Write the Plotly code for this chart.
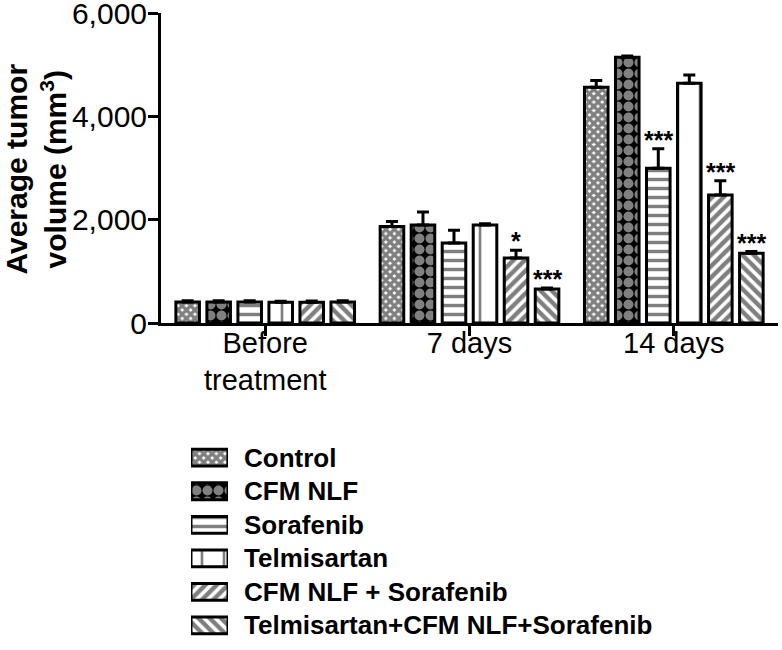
import plotly.graph_objects as go

# ---------------- data ----------------
categories = ["Before<br>treatment", "7 days", "14 days"]
series_names = ["Control", "CFM NLF", "Sorafenib", "Telmisartan",
                "CFM NLF + Sorafenib", "Telmisartan+CFM NLF+Sorafenib"]

control = [405, 1870, 4570]
control_err = [25, 100, 130]
cfm_nlf = [405, 1900, 5150]
cfm_nlf_err = [25, 250, 25]
sorafenib = [405, 1550, 3000]
sorafenib_err = [25, 250, 380]
telmisartan = [400, 1900, 4650]
telmisartan_err = [20, 25, 160]
cfm_sora = [400, 1260, 2480]
cfm_sora_err = [25, 150, 280]
triple = [405, 660, 1350]
triple_err = [25, 20, 35]

control_sig = ["", "", ""]
cfm_nlf_sig = ["", "", ""]
sorafenib_sig = ["", "", "***"]
telmisartan_sig = ["", "", ""]
cfm_sora_sig = ["", "*", "***"]
triple_sig = ["", "***", "***"]

y_ticks = [0, 2000, 4000, 6000]
y_title = "Average tumor<br>volume (mm<sup>3</sup>)"

values = [control, cfm_nlf, sorafenib, telmisartan, cfm_sora, triple]
errors = [control_err, cfm_nlf_err, sorafenib_err, telmisartan_err, cfm_sora_err, triple_err]
sigs = [control_sig, cfm_nlf_sig, sorafenib_sig, telmisartan_sig, cfm_sora_sig, triple_sig]

# ---------------- styles ----------------
FONT = "Liberation Sans, Arial, sans-serif"
patterns = [
    dict(shape="x", size=6, solidity=0.8, fgcolor="black", bgcolor="white"),
    dict(shape=".", size=11, solidity=0.65, fgcolor="white", bgcolor="black"),
    dict(shape="-", size=9, solidity=0.38, fgcolor="black", bgcolor="white"),
    dict(shape="|", size=22, solidity=0.12, fgcolor="black", bgcolor="white"),
    dict(shape="/", size=8, solidity=0.55, fgcolor="black", bgcolor="white"),
    dict(shape="\\", size=8, solidity=0.55, fgcolor="black", bgcolor="white"),
]

BARGAP = 0.089
BARGROUPGAP = 0.24
L, R, T, B = 161, 4, 13, 5
W, H = 782, 650
PLOT_W = W - L - R

fig = go.Figure()

for name, vals, errs, pat in zip(series_names, values, errors, patterns):
    fig.add_trace(go.Bar(
        x=categories, y=vals, name=name,
        marker=dict(color="white", pattern=pat, line=dict(color="black", width=3)),
        error_y=dict(type="data", symmetric=False, array=errs, arrayminus=[0] * len(errs),
                     color="black", thickness=3, width=6),
        xaxis="x", yaxis="y", showlegend=False,
    ))

# custom legend swatches (horizontal bars in a small axis)
for name, pat in zip(series_names, patterns):
    fig.add_trace(go.Bar(
        x=[1], y=[name], orientation="h", width=0.5, offset=-0.25,
        offsetgroup="legend",
        marker=dict(color="white", pattern=pat, line=dict(color="black", width=3)),
        xaxis="x2", yaxis="y2", showlegend=False, hoverinfo="skip",
    ))

# significance stars
slot = (1 - BARGAP) / len(series_names)
annotations = []
for si, (vals, errs, sg) in enumerate(zip(values, errors, sigs)):
    for ci, s in enumerate(sg):
        if s:
            annotations.append(dict(
                x=ci + (si - (len(series_names) - 1) / 2) * slot,
                y=vals[ci] + errs[ci], xref="x", yref="y",
                text=s, showarrow=False, yanchor="bottom", yshift=-7,
                font=dict(family=FONT, size=25, color="black", weight="bold"),
            ))

# y axis title (rotated annotation, placed in the left margin)
annotations.append(dict(
    text=y_title, textangle=-90, showarrow=False,
    xref="paper", x=(36 - L) / PLOT_W, xanchor="center",
    yref="y domain", y=0.495, yanchor="middle",
    font=dict(family=FONT, size=30, color="black", weight="bold"),
))

fig.update_layout(
    width=W, height=H,
    margin=dict(l=L, r=R, t=T, b=B, autoexpand=False),
    paper_bgcolor="white", plot_bgcolor="white",
    barmode="group", bargap=BARGAP, bargroupgap=BARGROUPGAP,
    showlegend=False,
    annotations=annotations,
    xaxis=dict(
        domain=[0, 1], anchor="y", type="category", range=[-0.51, 2.51],
        automargin=False,
        showline=True, linewidth=3, linecolor="black",
        ticks="outside", ticklen=10, tickwidth=3, tickcolor="black",
        ticklabelstandoff=-18,
        tickfont=dict(family=FONT, size=29, color="black"),
        showgrid=False, zeroline=False,
    ),
    yaxis=dict(
        domain=[0.5095, 1], anchor="x", range=[0, 6010],
        automargin=False, ticklabeloverflow="allow",
        tickvals=y_ticks, tickformat=",",
        showline=True, linewidth=3, linecolor="black",
        ticks="outside", ticklen=10, tickwidth=3, tickcolor="black",
        ticklabelstandoff=-5,
        tickfont=dict(family=FONT, size=30, color="black"),
        showgrid=False, zeroline=False,
    ),
    xaxis2=dict(
        domain=[0.0486, 0.1086], anchor="y2", range=[0, 1],
        automargin=False, visible=False, fixedrange=True,
    ),
    yaxis2=dict(
        domain=[0.0047, 0.3228], anchor="x2", side="right",
        automargin=False,
        type="category", categoryarray=series_names, range=[5.5, -0.5],
        showline=False, showgrid=False, zeroline=False, ticks="",
        ticklabelstandoff=15,
        tickfont=dict(family=FONT, size=26, color="black", weight="bold"),
    ),
)

fig.write_html("out.html", config={"displayModeBar": False},
               post_script="document.body.style.margin='0';")
